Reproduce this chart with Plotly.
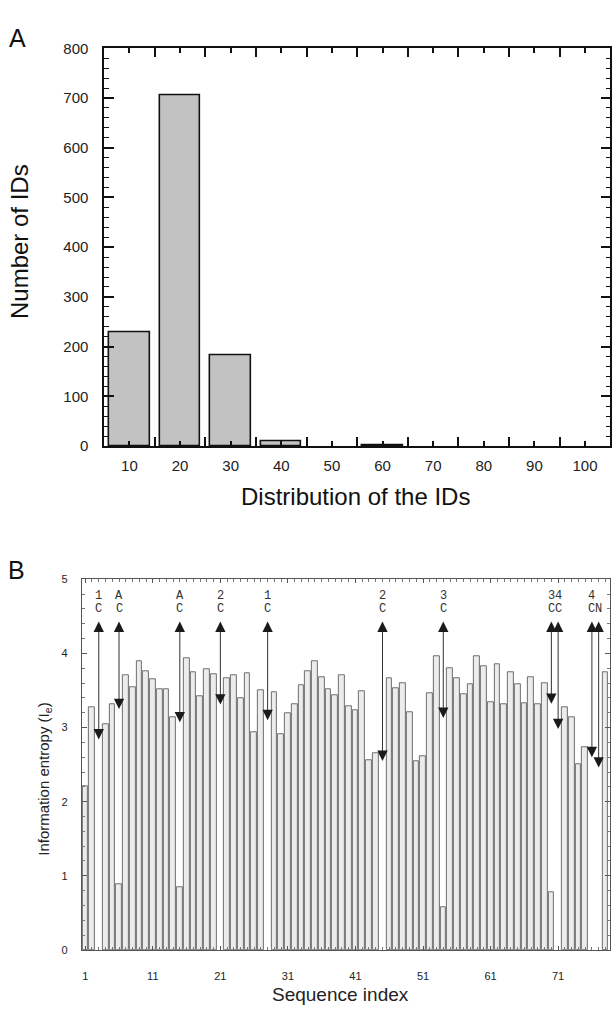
import plotly.graph_objects as go

# ---------------- Panel A data ----------------
id_bins = [10, 20, 30, 40, 50, 60, 70, 80, 90, 100]
id_counts = [228, 705, 183, 10, 0, 2, 0, 0, 0, 0]
a_xticks = [10, 20, 30, 40, 50, 60, 70, 80, 90, 100]
a_yticks = [0, 100, 200, 300, 400, 500, 600, 700, 800]

# ---------------- Panel B data ----------------
seq_index = list(range(1, 79))
entropy = [
    2.21, 3.27, 0.00, 3.05, 3.32, 0.88, 3.71, 3.55, 3.89, 3.76,
    3.65, 3.51, 3.52, 3.14, 0.84, 3.94, 3.75, 3.42, 3.78, 3.72,
    0.00, 3.66, 3.70, 3.39, 3.73, 2.94, 3.50, 0.00, 3.48, 2.91,
    3.19, 3.32, 3.57, 3.76, 3.90, 3.68, 3.51, 3.44, 3.70, 3.29,
    3.23, 3.49, 2.56, 2.65, 0.00, 3.67, 3.53, 3.60, 3.21, 2.55,
    2.61, 3.46, 3.96, 0.57, 3.80, 3.67, 3.45, 3.58, 3.96, 3.83,
    3.34, 3.86, 3.31, 3.74, 3.58, 3.33, 3.68, 3.32, 3.60, 0.78,
    0.00, 3.28, 3.14, 2.51, 2.73, 0.00, 0.00, 3.75,
]
b_xticks = [1, 11, 21, 31, 41, 51, 61, 71]
b_yticks = [0, 1, 2, 3, 4, 5]

# cysteine / marker arrows
mark_pos = [3, 6, 15, 21, 28, 45, 54, 70, 71, 76, 77]
mark_low = [2.84, 3.25, 3.07, 3.31, 3.10, 2.55, 3.13, 3.32, 2.98, 2.60, 2.46]
mark_high = 4.45
mark_top = ["1", "A", "A", "2", "1", "2", "3", "3", "4", "4", ""]
mark_res = ["C", "C", "C", "C", "C", "C", "C", "C", "C", "C", "N"]

W, H = 612, 1013


def px(x):
    return x / W


def py(y):
    return 1 - y / H


fig = go.Figure()

fig.add_trace(go.Bar(
    x=id_bins, y=[v if v > 0 else None for v in id_counts], width=8,
    marker=dict(color="#c2c2c2", line=dict(color="#111111", width=1.6)),
    xaxis="x", yaxis="y", showlegend=False,
))

fig.add_trace(go.Bar(
    x=seq_index, y=[v if v > 0 else None for v in entropy], width=0.85,
    marker=dict(color="#ececec", line=dict(color="#6e6e6e", width=1)),
    xaxis="x2", yaxis="y2", showlegend=False,
))

sans = "Liberation Sans, Arial, sans-serif"

fig.update_layout(
    width=W, height=H, autosize=False,
    margin=dict(l=0, r=0, t=0, b=0),
    paper_bgcolor="white", plot_bgcolor="white",
    bargap=0,
    xaxis=dict(
        domain=[px(104.3), px(611.3)], anchor="y",
        range=[5, 105], showgrid=False, zeroline=False,
        showline=True, linecolor="#111111", linewidth=1.6, mirror="ticks",
        tickmode="array", tickvals=a_xticks, ticktext=[str(v) for v in a_xticks],
        ticks="inside", ticklen=5, tickwidth=1.5, tickcolor="#111111",
        minor=dict(tickmode="array", tickvals=[15, 25, 35, 45, 55, 65, 75, 85, 95],
                   ticks="inside", ticklen=9, tickwidth=1.5, tickcolor="#111111"),
        tickfont=dict(family=sans, size=15, color="#222222"),
        ticklabelstandoff=5,
    ),
    yaxis=dict(
        domain=[py(444.5), py(40)], anchor="x",
        range=[0, 800], showgrid=False, zeroline=False,
        showline=True, linecolor="#111111", linewidth=1.6, mirror="ticks",
        tickmode="array", tickvals=a_yticks,
        ticks="inside", ticklen=10, tickwidth=1.5, tickcolor="#111111",
        minor=dict(dtick=20, ticks="inside", ticklen=5, tickwidth=1.3, tickcolor="#111111"),
        tickfont=dict(family=sans, size=15, color="#222222"),
        ticklabelstandoff=11,
    ),
    xaxis2=dict(
        domain=[px(82), px(610.8)], anchor="y2",
        range=[0.5, 78.65], showgrid=False, zeroline=False,
        showline=True, linecolor="#555555", linewidth=1, mirror="ticks",
        tickmode="array", tickvals=b_xticks,
        ticks="inside", ticklen=4, tickwidth=1, tickcolor="#555555",
        minor=dict(tick0=1, dtick=1, ticks="inside", ticklen=2.5, tickwidth=0.8, tickcolor="#777777"),
        tickfont=dict(family=sans, size=11, color="#222222"),
        ticklabelstandoff=16,
    ),
    yaxis2=dict(
        domain=[py(957), py(580)], anchor="x2",
        range=[0, 5], showgrid=False, zeroline=False,
        showline=True, linecolor="#555555", linewidth=1, mirror="ticks",
        tickmode="array", tickvals=b_yticks,
        ticks="inside", ticklen=5, tickwidth=1, tickcolor="#555555",
        minor=dict(dtick=0.2, ticks="inside", ticklen=3, tickwidth=0.8, tickcolor="#777777"),
        tickfont=dict(family=sans, size=11, color="#222222"),
        ticklabelstandoff=11,
    ),
)

ann = []
# panel letters
ann.append(dict(text="A", x=px(18), y=py(30), xref="paper", yref="paper",
                showarrow=False, font=dict(family=sans, size=25, color="#111111"),
                xanchor="center", yanchor="middle"))
ann.append(dict(text="B", x=px(17), y=py(571), xref="paper", yref="paper",
                showarrow=False, font=dict(family=sans, size=25, color="#111111"),
                xanchor="center", yanchor="middle"))
# axis titles
ann.append(dict(text="Number of IDs", x=px(19), y=py(236), xref="paper", yref="paper",
                showarrow=False, textangle=-90, font=dict(family=sans, size=24, color="#111111"),
                xanchor="center", yanchor="middle"))
ann.append(dict(text="Distribution of the IDs", x=px(356), y=py(496), xref="paper", yref="paper",
                showarrow=False, font=dict(family=sans, size=24, color="#111111"),
                xanchor="center", yanchor="middle"))
ann.append(dict(text="Information entropy (I<sub>e</sub>)", x=px(45), y=py(783), xref="paper", yref="paper",
                showarrow=False, textangle=-90, font=dict(family=sans, size=15, color="#222222"),
                xanchor="center", yanchor="middle"))
ann.append(dict(text="Sequence index", x=px(341), y=py(1002), xref="paper", yref="paper",
                showarrow=False, font=dict(family=sans, size=19, color="#222222"),
                xanchor="center", yanchor="middle"))

mono = "Liberation Mono, Courier New, monospace"
for p, lo, t1, t2 in zip(mark_pos, mark_low, mark_top, mark_res):
    ann.append(dict(
        x=p, y=lo, ax=p, ay=mark_high, xref="x2", yref="y2", axref="x2", ayref="y2",
        text="", showarrow=True, arrowside="end+start",
        arrowhead=2, startarrowhead=2, arrowsize=2.3, startarrowsize=2.3,
        arrowwidth=0.9, arrowcolor="#1a1a1a",
    ))
    if t1:
        ann.append(dict(x=p, y=4.78, xref="x2", yref="y2", text=t1, showarrow=False,
                        font=dict(family=mono, size=12, color="#333333"),
                        xanchor="center", yanchor="middle"))
    ann.append(dict(x=p, y=4.60, xref="x2", yref="y2", text=t2, showarrow=False,
                    font=dict(family=mono, size=12, color="#333333"),
                    xanchor="center", yanchor="middle"))

fig.update_layout(annotations=ann)

fig.write_html(
    "out.html",
    config={"displayModeBar": False},
    post_script="document.body.style.margin='0';document.body.style.overflow='hidden';",
)
